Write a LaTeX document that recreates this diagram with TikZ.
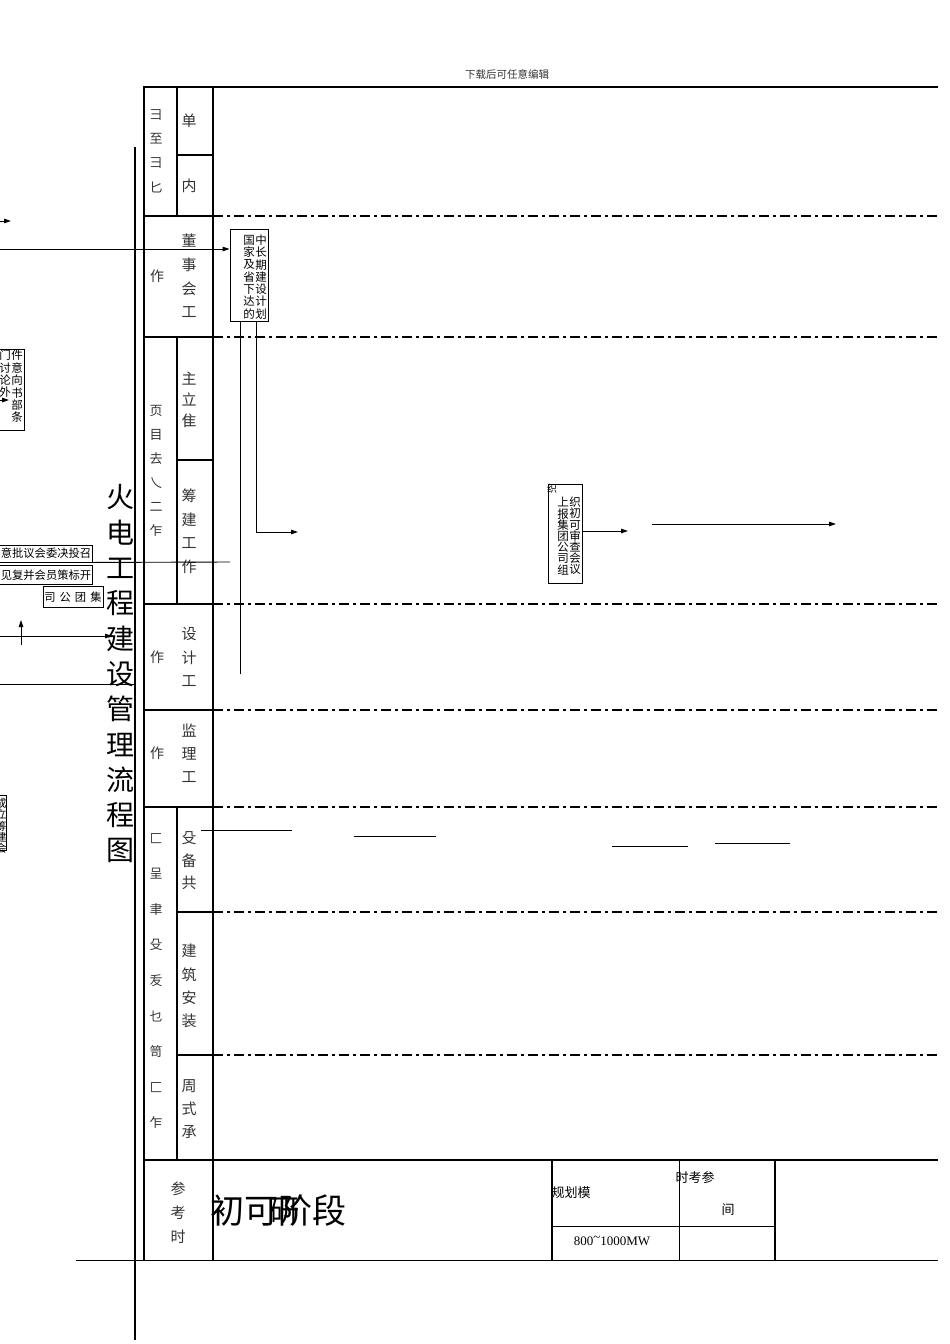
\documentclass[tikz,border=0pt]{standalone}
\usepackage{fontspec}
\setmainfont{Liberation Serif}
\newfontfamily\cjk{Noto Sans CJK SC}
\usetikzlibrary{arrows.meta}
\newcommand\vt[2]{\cjk\fontsize{#1}{#2}\selectfont}
\begin{document}
\begin{tikzpicture}[x=1pt,y=-1pt,
  frm/.style={line width=2.4pt},
  thinl/.style={line width=0.9pt},
  dd/.style={line width=1.1pt, dash pattern=on 10pt off 4pt on 3pt off 4pt},
  arr/.style={-{Triangle[length=7pt,width=4.5pt]}, line width=0.9pt},
  boxn/.style={draw, line width=0.9pt, inner sep=0pt},
  lbl/.style={align=center, inner sep=0pt, text=black!80},
  txt/.style={align=center, inner sep=0pt}]
\useasboundingbox (0,0) rectangle (950,1344);
% frame
\draw[frm] (143,87) -- (938,87);
\draw[frm] (144,87) -- (144,1260);
\draw[frm] (213,87) -- (213,1260);
\draw[frm] (177,87) -- (177,216);
\draw[frm] (177,338) -- (177,604);
\draw[frm] (177,807) -- (177,1160);
\draw[frm] (177,155) -- (213,155);
\draw[frm] (144,216) -- (213,216);
\draw[frm] (144,337) -- (213,337);
\draw[frm] (177,460) -- (213,460);
\draw[frm] (144,604) -- (213,604);
\draw[frm] (144,710) -- (213,710);
\draw[frm] (144,807) -- (213,807);
\draw[frm] (177,912) -- (213,912);
\draw[frm] (177,1055) -- (213,1055);
\draw[frm] (144,1160) -- (938,1160);
\foreach \yy in {216,337,604,710,807,912,1055} \draw[dd] (213,\yy) -- (938,\yy);
\draw[frm] (135,147) -- (135,1340);
\draw[thinl] (76,1260) -- (938,1260);
\draw[frm] (552,1160) -- (552,1260);
\draw[thinl] (679,1160) -- (679,1260);
\draw[frm] (775,1160) -- (775,1260);
\draw[thinl] (552,1226) -- (775,1226);
% header
\node[lbl, font=\vt{10.5}{12}] (hdr) at (507,74) {下载后可任意编辑};
% title
\node[txt, font=\vt{28}{35.3}] (title) at (120,674) {火\\电\\工\\程\\建\\设\\管\\理\\流\\程\\图};
% column labels
\node[lbl, font=\vt{13}{24.3}] (a1) at (156,151) {彐\\至\\彐\\匕};
\node[lbl, font=\vt{15}{20}] (b1) at (189,121) {单};
\node[lbl, font=\vt{15}{20}] (b2) at (189,186) {内};
\node[lbl, font=\vt{15}{23.7}] (dsh) at (189,276) {董\\事\\会\\工};
\node[lbl, font=\vt{14}{20}] (dshz) at (157,276) {作};
\node[lbl, font=\vt{13}{24}] (xm) at (156,471) {页\\目\\去\\乀\\二\\乍};
\node[lbl, font=\vt{15}{21}] (sc) at (189,400) {主\\立\\隹};
\node[lbl, font=\vt{15}{23.5}] (cj) at (189,531) {筹\\建\\工\\作};
\node[lbl, font=\vt{15}{23.5}] (sj) at (189,657) {设\\计\\工};
\node[lbl, font=\vt{14}{20}] (sjz) at (157,657) {作};
\node[lbl, font=\vt{15}{23}] (jl) at (189,753) {监\\理\\工};
\node[lbl, font=\vt{14}{20}] (jlz) at (157,753) {作};
\node[lbl, font=\vt{13}{35.6}] (gc) at (156,981) {匚\\呈\\聿\\殳\\叐\\乜\\笥\\匚\\乍};
\node[lbl, font=\vt{15}{22.5}] (sb) at (189,861) {殳\\备\\共};
\node[lbl, font=\vt{15}{23.3}] (jz) at (189,986) {建\\筑\\安\\装};
\node[lbl, font=\vt{15}{23}] (ts) at (189,1109) {周\\式\\承};
\node[lbl, font=\vt{15}{24}] (ck) at (178,1213) {参\\考\\时};
% box: national plan
\node[boxn, minimum width=38pt, minimum height=92pt] (plan) at (249,275) {};
\node[txt, font=\vt{11.5}{12.3}] (planr) at (261,277) {中\\长\\期\\建\\设\\计\\划};
\node[txt, font=\vt{11.5}{12.3}] (planl) at (249,277) {国\\家\\及\\省\\下\\达\\的};
\coordinate (in1) at (0,249);
\draw[arr] (in1) -- (in1 -| plan.west);
\coordinate (d1) at (240,674);
\draw[thinl] (plan.south -| d1) -- (d1);
\coordinate (d2) at (256,532);
\coordinate (d2e) at (298,532);
\draw[arr] (plan.south -| d2) -- (d2) -- (d2e);
% box: review
\node[boxn, minimum width=34pt, minimum height=99pt] (rev) at (565,533.5) {};
\node[txt, font=\vt{11.5}{11.2}] (revr) at (575,536) {织\\初\\可\\审\\查\\会\\议};
\node[txt, font=\vt{11.5}{11.2}] (revl) at (563,536) {上\\报\\集\\团\\公\\司\\组};
\node[txt, font=\vt{10}{10}] (revx) at (552,489) {织};
\coordinate (a2) at (628,531);
\draw[arr] (a2 -| rev.east) -- (a2);
\coordinate (a3s) at (652,524);
\coordinate (a3e) at (836,524);
\draw[arr] (a3s) -- (a3e);
% left: external
\node[boxn, minimum width=34pt, minimum height=81pt] (ext) at (7,389.5) {};
\node[txt, font=\vt{11.5}{12.4}] (extl) at (5,374) {门\\讨\\论\\外};
\node[txt, font=\vt{11.5}{12.4}] (extr) at (17,386.5) {件\\意\\向\\书\\部\\条};
\coordinate (e1) at (-6,400);
\coordinate (e2) at (9,400);
\draw[arr] (e1) -- (e2);
\coordinate (t0) at (0,221);
\coordinate (t1) at (11,221);
\draw[arr] (t0) -- (t1);
% left: investment boxes
\node[boxn, minimum width=102pt, minimum height=17pt] (bx1) at (41,553.5) {};
\node[txt, font=\vt{11.3}{12}] (bx1t) at (46,553.5) {意批议会委决投召};
\node[boxn, minimum width=102pt, minimum height=19pt] (bx2) at (41,574.5) {};
\node[txt, font=\vt{11.3}{12}] (bx2t) at (46,575) {见复并会员策标开};
\coordinate (l562) at (230,562);
\draw[thinl] (bx1.south east) -- (l562);
\node[boxn, minimum width=60pt, minimum height=21pt] (bx3) at (73,596.5) {};
\node[txt, font=\vt{11.3}{12}] (bx3t) at (73,597) {司\hspace{4pt}公\hspace{4pt}团\hspace{4pt}集};
\coordinate (u1) at (21,645);
\coordinate (u2) at (21,620);
\draw[arr] (u1) -- (u2);
\coordinate (r1) at (0,636);
\coordinate (r2) at (112,636);
\draw[arr] (r1) -- (r2);
\coordinate (h1) at (0,684);
\coordinate (h2) at (135,684);
\draw[thinl] (h1) -- (h2);
\node[boxn, minimum width=18pt, minimum height=55pt] (bx4) at (-3,822.5) {};
\node[txt, font=\vt{11}{11.3}] (bx4t) at (1,826) {成\\立\\筹\\建\\会};
% short lines in equipment row
\draw[thinl] (201,830) -- (292,830);
\draw[thinl] (354,836) -- (436,836);
\draw[thinl] (612,846) -- (688,846);
\draw[thinl] (715,843) -- (790,843);
% bottom row
\node[txt, font=\vt{34}{34}, anchor=west] (stage) at (210,1211) {初可阶段};
\node[txt, font=\vt{30}{30}] (stage2) at (284,1211) {研};
\node[txt, font=\vt{13}{14}] (gm) at (571,1193) {规划模};
\node[txt, font=\vt{13}{14}] (sk) at (695,1178) {时考参};
\node[txt, font=\vt{13}{14}] (jian) at (728,1210) {间};
\node[txt, font=\fontsize{13}{14}\selectfont] (mw) at (612,1241) {800\raisebox{3.5pt}{\textasciitilde}1000MW};
\end{tikzpicture}
\end{document}
